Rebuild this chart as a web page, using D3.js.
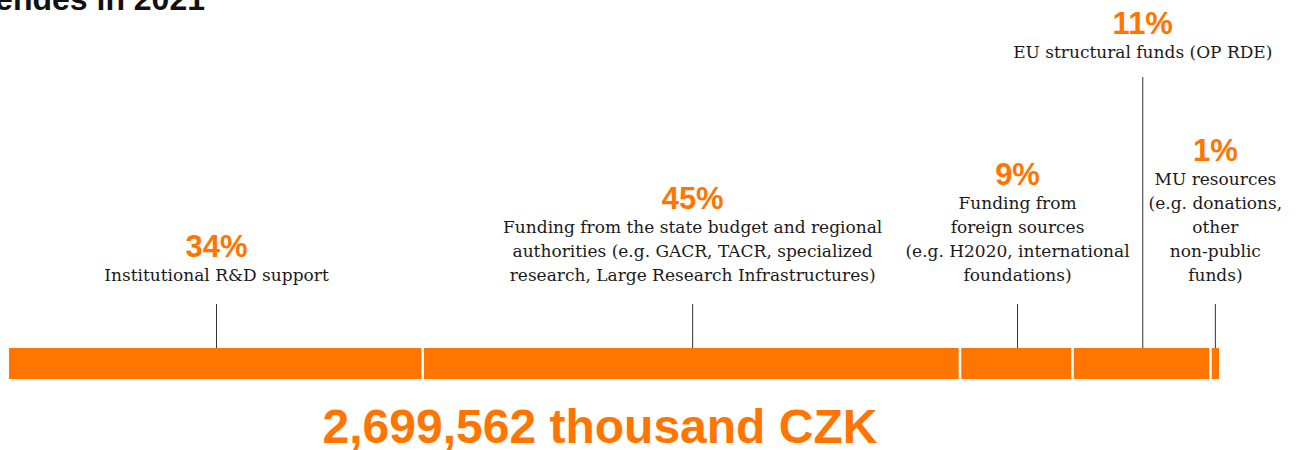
<!DOCTYPE html>
<html lang="en">
	<head>
		<meta charset="utf-8">
		<title>R&D revenues in 2021</title>
		<script type="text/javascript" src="https://cdn.jsdelivr.net/npm/d3@7"></script>
		<style type="text/css">
			body { margin: 0; background: #fff; }
			svg { display: block; }
		</style>
	</head>
	<body>
		<script type="text/javascript">

			//Width and height
			var w = 1297;
			var h = 450;

			//Data: shares of the total (percent), label texts
			var categories = ["institutional", "state", "foreign", "eu", "mu"];
			var values = [34.3, 44.4, 9.3, 11.4, 0.6];
			var pctLabels = ["34%", "45%", "9%", "11%", "1%"];
			var descriptions = [
				["Institutional R&D support"],
				["Funding from the state budget and regional", "authorities (e.g. GACR, TACR, specialized", "research, Large Research Infrastructures)"],
				["Funding from", "foreign sources", "(e.g. H2020, international", "foundations)"],
				["EU structural funds (OP RDE)"],
				["MU resources", "(e.g. donations,", "other", "non-public", "funds)"]
			];
			var raised = ["eu"];   // label placed at the top of the chart
			var totalLabel = "2,699,562 thousand CZK";
			var titleText = "expendes in 2021";

			var orange = "#ff7500";
			var pctFont = "'Liberation Sans', Arial, sans-serif";
			var textFont = "'DejaVu Serif', 'Liberation Serif', serif";

			//Create SVG element
			var svg = d3.select("body")
						.append("svg")
						.attr("width", w)
						.attr("height", h);

			//Build segments with cumulative starts
			var total = d3.sum(values);
			var acc = 0;
			var segs = categories.map(function(c, i) {
				var s = { key: c, start: acc, end: acc + values[i], pct: pctLabels[i], lines: descriptions[i] };
				acc += values[i];
				return s;
			});

			var x = d3.scaleLinear()
					  .domain([0, total])
					  .range([9, 1219]);

			var barTop = 348, barH = 31, gap = 2.6;

			//Title (cut off at the top edge)
			svg.append("text")
			   .attr("x", 205)
			   .attr("y", 10)
			   .attr("text-anchor", "end")
			   .style("font-family", pctFont)
			   .style("font-weight", "bold")
			   .style("font-size", "32px")
			   .style("fill", "#111")
			   .text(titleText);

			//Bar segments
			svg.selectAll("rect.seg")
			   .data(segs)
			   .enter()
			   .append("rect")
			   .attr("class", "seg")
			   .attr("x", function(d) { return x(d.start); })
			   .attr("y", barTop)
			   .attr("width", function(d, i) { return x(d.end) - x(d.start) - (i < segs.length - 1 ? gap : 0); })
			   .attr("height", barH)
			   .style("fill", orange);

			function cx(d) { return (x(d.start) + x(d.end)) / 2; }

			var lastBase = 281, lineH = 24;
			function isRaised(d) { return raised.indexOf(d.key) >= 0; }

			//Leader lines
			svg.selectAll("line.lead")
			   .data(segs)
			   .enter()
			   .append("line")
			   .attr("class", "lead")
			   .attr("x1", cx)
			   .attr("x2", cx)
			   .attr("y1", function(d) { return isRaised(d) ? 77 : 304; })
			   .attr("y2", barTop)
			   .style("stroke", "#333")
			   .style("stroke-width", 1);

			//Labels
			var lab = svg.selectAll("g.lab")
						 .data(segs)
						 .enter()
						 .append("g")
						 .attr("class", "lab")
						 .attr("transform", function(d) {
							 var base = isRaised(d) ? 58 : lastBase - (d.lines.length - 1) * lineH;
							 return "translate(" + cx(d) + "," + base + ")";
						 });

			lab.append("text")
			   .attr("y", -24)
			   .attr("text-anchor", "middle")
			   .style("font-family", pctFont)
			   .style("font-weight", "bold")
			   .style("font-size", "31px")
			   .style("fill", orange)
			   .text(function(d) { return d.pct; });

			lab.selectAll("text.desc")
			   .data(function(d) { return d.lines; })
			   .enter()
			   .append("text")
			   .attr("class", "desc")
			   .attr("y", function(d, i) { return i * lineH; })
			   .attr("text-anchor", "middle")
			   .style("font-family", textFont)
			   .style("font-size", "17px")
			   .style("fill", "#1a1a1a")
			   .text(function(d) { return d; });

			//Total
			svg.append("text")
			   .attr("x", 600)
			   .attr("y", 443)
			   .attr("text-anchor", "middle")
			   .style("font-family", pctFont)
			   .style("font-weight", "bold")
			   .style("font-size", "48px")
			   .style("fill", orange)
			   .text(totalLabel);

		</script>
	</body>
</html>
